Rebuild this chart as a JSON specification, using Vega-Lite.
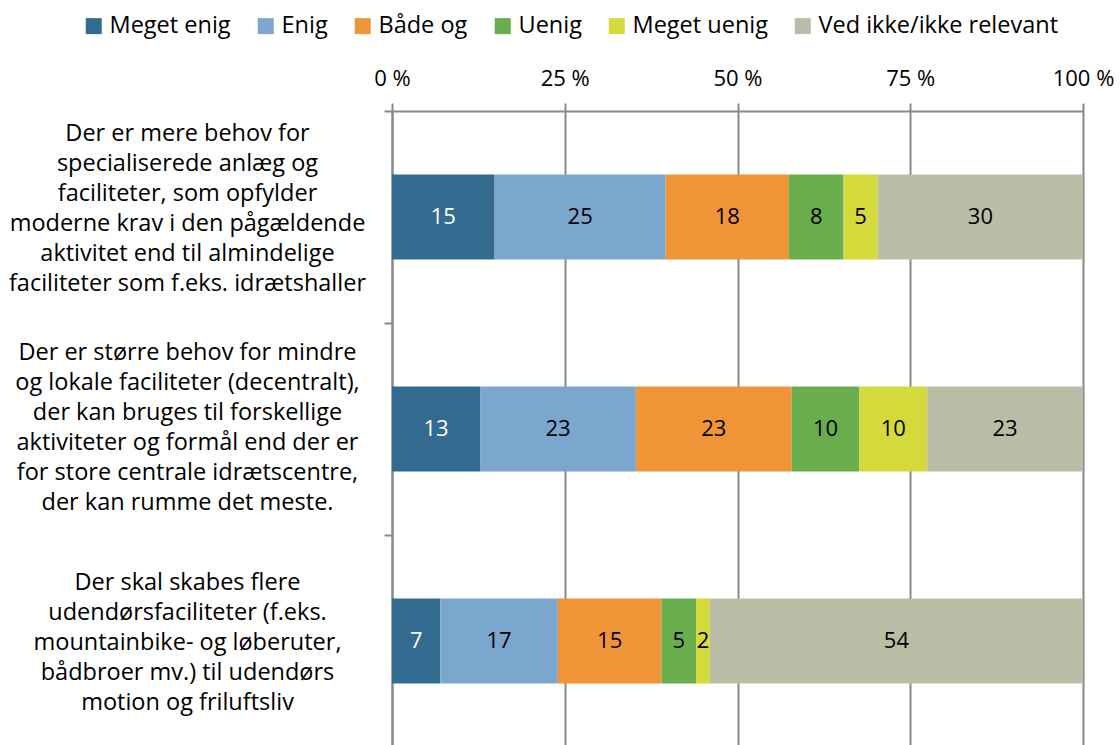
{
  "$schema": "https://vega.github.io/schema/vega-lite/v6.json",
  "width": 691,
  "height": 636,
  "autosize": {"type": "none"},
  "padding": {"left": 392, "top": 111, "right": 37, "bottom": 0},
  "background": "white",
  "config": {"font": "Open Sans", "view": {"stroke": null}},
  "data": {"values": [
    {"q": "Der er mere behov for|specialiserede anlæg og|faciliteter, som opfylder|moderne krav i den pågældende|aktivitet end til almindelige|faciliteter som f.eks. idrætshaller", "cat": "Meget enig", "order": 1, "value": 15},
    {"q": "Der er mere behov for|specialiserede anlæg og|faciliteter, som opfylder|moderne krav i den pågældende|aktivitet end til almindelige|faciliteter som f.eks. idrætshaller", "cat": "Enig", "order": 2, "value": 25},
    {"q": "Der er mere behov for|specialiserede anlæg og|faciliteter, som opfylder|moderne krav i den pågældende|aktivitet end til almindelige|faciliteter som f.eks. idrætshaller", "cat": "Både og", "order": 3, "value": 18},
    {"q": "Der er mere behov for|specialiserede anlæg og|faciliteter, som opfylder|moderne krav i den pågældende|aktivitet end til almindelige|faciliteter som f.eks. idrætshaller", "cat": "Uenig", "order": 4, "value": 8},
    {"q": "Der er mere behov for|specialiserede anlæg og|faciliteter, som opfylder|moderne krav i den pågældende|aktivitet end til almindelige|faciliteter som f.eks. idrætshaller", "cat": "Meget uenig", "order": 5, "value": 5},
    {"q": "Der er mere behov for|specialiserede anlæg og|faciliteter, som opfylder|moderne krav i den pågældende|aktivitet end til almindelige|faciliteter som f.eks. idrætshaller", "cat": "Ved ikke/ikke relevant", "order": 6, "value": 30},
    {"q": "Der er større behov for mindre|og lokale faciliteter (decentralt),|der kan bruges til forskellige|aktiviteter og formål end der er|for store centrale idrætscentre,|der kan rumme det meste.", "cat": "Meget enig", "order": 1, "value": 13},
    {"q": "Der er større behov for mindre|og lokale faciliteter (decentralt),|der kan bruges til forskellige|aktiviteter og formål end der er|for store centrale idrætscentre,|der kan rumme det meste.", "cat": "Enig", "order": 2, "value": 23},
    {"q": "Der er større behov for mindre|og lokale faciliteter (decentralt),|der kan bruges til forskellige|aktiviteter og formål end der er|for store centrale idrætscentre,|der kan rumme det meste.", "cat": "Både og", "order": 3, "value": 23},
    {"q": "Der er større behov for mindre|og lokale faciliteter (decentralt),|der kan bruges til forskellige|aktiviteter og formål end der er|for store centrale idrætscentre,|der kan rumme det meste.", "cat": "Uenig", "order": 4, "value": 10},
    {"q": "Der er større behov for mindre|og lokale faciliteter (decentralt),|der kan bruges til forskellige|aktiviteter og formål end der er|for store centrale idrætscentre,|der kan rumme det meste.", "cat": "Meget uenig", "order": 5, "value": 10},
    {"q": "Der er større behov for mindre|og lokale faciliteter (decentralt),|der kan bruges til forskellige|aktiviteter og formål end der er|for store centrale idrætscentre,|der kan rumme det meste.", "cat": "Ved ikke/ikke relevant", "order": 6, "value": 23},
    {"q": "Der skal skabes flere|udendørsfaciliteter (f.eks.|mountainbike- og løberuter,|bådbroer mv.) til udendørs|motion og friluftsliv", "cat": "Meget enig", "order": 1, "value": 7},
    {"q": "Der skal skabes flere|udendørsfaciliteter (f.eks.|mountainbike- og løberuter,|bådbroer mv.) til udendørs|motion og friluftsliv", "cat": "Enig", "order": 2, "value": 17},
    {"q": "Der skal skabes flere|udendørsfaciliteter (f.eks.|mountainbike- og løberuter,|bådbroer mv.) til udendørs|motion og friluftsliv", "cat": "Både og", "order": 3, "value": 15},
    {"q": "Der skal skabes flere|udendørsfaciliteter (f.eks.|mountainbike- og løberuter,|bådbroer mv.) til udendørs|motion og friluftsliv", "cat": "Uenig", "order": 4, "value": 5},
    {"q": "Der skal skabes flere|udendørsfaciliteter (f.eks.|mountainbike- og løberuter,|bådbroer mv.) til udendørs|motion og friluftsliv", "cat": "Meget uenig", "order": 5, "value": 2},
    {"q": "Der skal skabes flere|udendørsfaciliteter (f.eks.|mountainbike- og løberuter,|bådbroer mv.) til udendørs|motion og friluftsliv", "cat": "Ved ikke/ikke relevant", "order": 6, "value": 54}
  ]},
  "transform": [
    {"stack": "value", "groupby": ["q"], "sort": [{"field": "order", "order": "ascending"}], "offset": "normalize", "as": ["v0", "v1"]},
    {"calculate": "(datum.v0 + datum.v1) / 2", "as": "mid"}
  ],
  "encoding": {
    "y": {
      "field": "q", "type": "nominal", "sort": null,
      "scale": {"paddingInner": 0.6, "paddingOuter": 0.3},
      "axis": {
        "title": null, "domainColor": "#888888", "domainWidth": 2,
        "tickColor": "#888888", "tickWidth": 2, "tickSize": 8,
        "tickOffset": -106,
        "labelOffset": {"condition": [
          {"test": "indexof(datum.label, 'skabes') >= 0", "value": 47},
          {"test": "indexof(datum.label, 'større') >= 0", "value": 29}
        ], "value": 22},
        "labelExpr": "split(datum.label, '|')",
        "labelAlign": "center", "labelBaseline": "middle",
        "labelPadding": 197, "labelFontSize": 23.5, "labelLineHeight": 30,
        "labelColor": "black", "labelLimit": 0
      }
    }
  },
  "layer": [
    {
      "mark": {"type": "bar"},
      "encoding": {
        "x": {
          "field": "v0", "type": "quantitative",
          "scale": {"domain": [0, 1], "nice": false},
          "axis": {
            "orient": "top", "title": null, "values": [0, 0.25, 0.5, 0.75, 1],
            "labelExpr": "format(datum.value * 100, 'd') + ' %'",
            "labelFlush": false,
            "grid": true, "gridColor": "#888888", "gridWidth": 2,
            "domainColor": "#888888", "domainWidth": 2,
            "tickColor": "#888888", "tickWidth": 2, "tickSize": 8,
            "labelFontSize": 22, "labelColor": "black", "labelPadding": 13
          }
        },
        "x2": {"field": "v1"},
        "color": {
          "field": "cat", "type": "nominal",
          "scale": {
            "domain": ["Meget enig", "Enig", "Både og", "Uenig", "Meget uenig", "Ved ikke/ikke relevant"],
            "range": ["#336A90", "#7BA6CE", "#EF9537", "#6AAD4D", "#D4DA3C", "#B9BDA5"]
          },
          "legend": {
            "orient": "none", "legendX": -310, "legendY": -97,
            "direction": "horizontal", "title": null,
            "symbolType": "square", "symbolSize": 256, "symbolStrokeWidth": 0,
            "labelFontSize": 23.5, "labelColor": "black", "labelLimit": 0,
            "columnPadding": 23, "labelOffset": 4
          }
        }
      }
    },
    {
      "mark": {"type": "text", "fontSize": 22, "baseline": "middle"},
      "encoding": {
        "x": {"field": "mid", "type": "quantitative"},
        "text": {"field": "value", "type": "quantitative"},
        "color": {"condition": {"test": "datum.cat === 'Meget enig'", "value": "white"}, "value": "black"}
      }
    }
  ]
}
